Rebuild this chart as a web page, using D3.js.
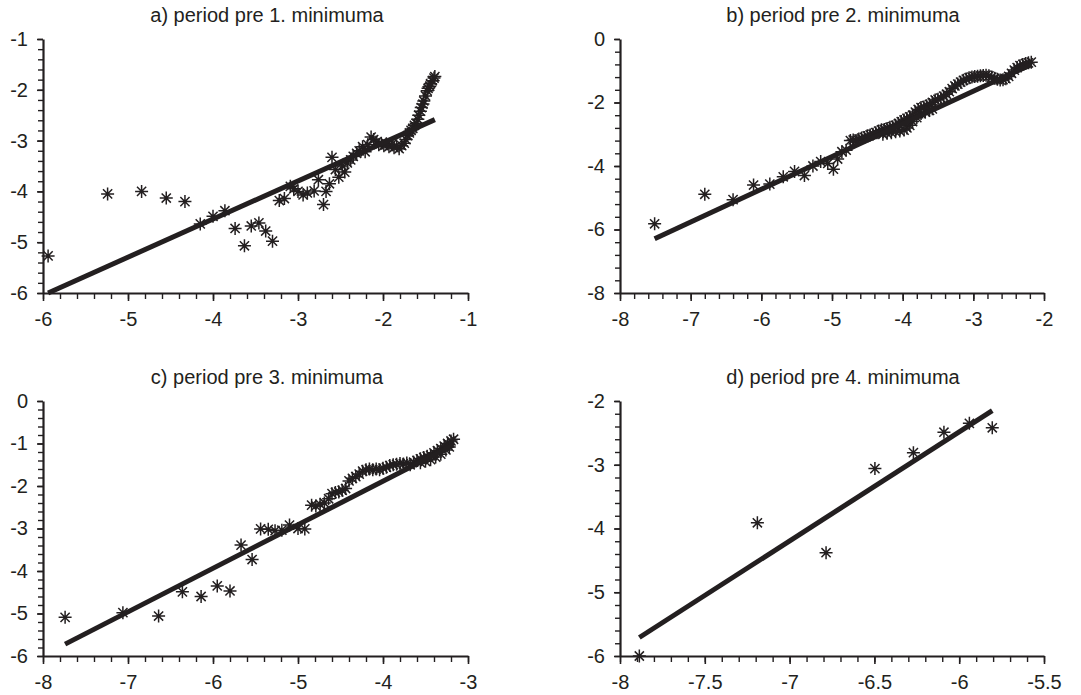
<!DOCTYPE html>
<html>
<head>
<meta charset="utf-8">
<script src="https://cdn.jsdelivr.net/npm/d3@7"></script>
<style>
  html, body { margin: 0; padding: 0; background: #fff; }
  svg { display: block; }
  text { font-family: "Liberation Sans", Arial, sans-serif; fill: #231f20; }
</style>
</head>
<body>
<svg id="chart" width="1081" height="695"></svg>
<script>
// ---------- DATA ----------
const titles = [
  "a) period pre 1. minimuma",
  "b) period pre 2. minimuma",
  "c) period pre 3. minimuma",
  "d) period pre 4. minimuma"
];

const xDomainA = [-6, -1], yDomainA = [-6, -1];
const xDomainB = [-8, -2], yDomainB = [-8, 0];
const xDomainC = [-8, -3], yDomainC = [-6, 0];
const xDomainD = [-8, -5.5], yDomainD = [-6, -2];

const xTicksA = [-6, -5, -4, -3, -2, -1];
const yTicksA = [-6, -5, -4, -3, -2, -1];
const xTicksB = [-8, -7, -6, -5, -4, -3, -2];
const yTicksB = [-8, -6, -4, -2, 0];
const xTicksC = [-8, -7, -6, -5, -4, -3];
const yTicksC = [-6, -5, -4, -3, -2, -1, 0];
const xTicksD = [-8, -7.5, -7, -6.5, -6, -5.5];
const yTicksD = [-6, -5, -4, -3, -2];

// minor tick step per panel [x, y]
const minorStepA = [0.2, 0.2];
const minorStepB = [0.2, 0.4];
const minorStepC = [0.2, 0.2];
const minorStepD = [0.1, 0.2];

// fitted line [slope, intercept]
const fitA = [0.75, -1.545];
const fitB = [1.03, 1.445];
const fitC = [1.025, 2.213];
const fitD = [1.71, 7.775];

const pointsA = [
  [-5.94,-5.27],[-5.24,-4.05],[-4.84,-4.00],[-4.55,-4.13],[-4.33,-4.20],[-4.15,-4.64],
  [-4.00,-4.49],[-3.86,-4.38],[-3.74,-4.73],[-3.63,-5.07],[-3.55,-4.68],[-3.46,-4.62],
  [-3.38,-4.78],[-3.30,-4.98],[-3.22,-4.18],[-3.16,-4.14],[-3.09,-3.90],[-3.05,-3.95],
  [-3.00,-4.00],[-2.94,-4.07],[-2.89,-4.03],[-2.81,-3.99],[-2.76,-3.77],[-2.70,-4.26],
  [-2.67,-4.00],[-2.63,-3.85],[-2.60,-3.33],[-2.56,-3.57],[-2.52,-3.72],[-2.48,-3.50],
  [-2.45,-3.62],[-2.42,-3.44],[-2.38,-3.38],[-2.35,-3.31],[-2.31,-3.25],[-2.28,-3.20],
  [-2.24,-3.12],[-2.21,-3.22],[-2.18,-3.08],[-2.14,-2.93],[-2.11,-2.98],[-2.08,-3.03],
  [-2.05,-3.08],[-2.02,-3.05],[-1.99,-3.10],[-1.96,-3.06],[-1.93,-3.12],[-1.90,-3.08],
  [-1.87,-3.14],[-1.84,-3.10],[-1.81,-3.16],[-1.78,-3.10],[-1.75,-3.05],[-1.73,-2.98],
  [-1.71,-2.90],[-1.69,-2.85],[-1.67,-2.80],[-1.65,-2.76],[-1.63,-2.70],[-1.61,-2.66],
  [-1.59,-2.58],[-1.58,-2.50],[-1.56,-2.42],[-1.55,-2.35],[-1.53,-2.28],[-1.52,-2.22],
  [-1.50,-2.12],[-1.48,-2.02],[-1.47,-1.97],[-1.45,-1.93],[-1.44,-1.88],[-1.42,-1.82],
  [-1.40,-1.77],[-1.39,-1.74]
];

const pointsB = [
  [-7.51,-5.82],[-6.80,-4.89],[-6.40,-5.06],[-6.11,-4.60],[-5.88,-4.57],[-5.69,-4.34],
  [-5.53,-4.17],[-5.39,-4.30],[-5.27,-4.00],[-5.16,-3.86],[-5.06,-3.92],[-4.98,-4.10],
  [-4.92,-3.78],[-4.86,-3.55],[-4.80,-3.50],[-4.74,-3.20],
  [-4.70,-3.18],[-4.66,-3.20],[-4.62,-3.15],[-4.58,-3.12],[-4.54,-3.10],[-4.50,-3.05],
  [-4.46,-3.02],[-4.42,-3.00],[-4.38,-2.95],[-4.34,-2.90],[-4.30,-2.86],[-4.26,-2.85],
  [-4.22,-2.82],[-4.18,-2.78],[-4.14,-2.76],[-4.10,-2.72],[-4.06,-2.66],[-4.02,-2.60],
  [-3.98,-2.55],[-3.94,-2.50],[-3.90,-2.45],[-3.86,-2.40],[-3.82,-2.30],[-3.78,-2.22],
  [-3.74,-2.16],[-3.70,-2.14],[-3.66,-2.10],[-3.62,-2.06],[-3.58,-2.00],[-3.54,-1.92],
  [-3.50,-1.90],[-3.46,-1.86],[-3.42,-1.80],[-3.38,-1.74],[-3.34,-1.66],[-3.30,-1.56],
  [-3.26,-1.48],[-3.22,-1.42],[-3.18,-1.36],[-3.14,-1.30],[-3.10,-1.26],[-3.06,-1.22],
  [-3.02,-1.20],[-2.98,-1.18],[-2.94,-1.17],[-2.90,-1.16],[-2.86,-1.15],[-2.82,-1.14],
  [-2.78,-1.16],[-2.74,-1.20],[-2.70,-1.24],[-2.66,-1.27],[-2.62,-1.29],[-2.58,-1.28],
  [-2.54,-1.25],[-2.50,-1.18],[-2.46,-1.08],[-2.42,-0.98],[-2.38,-0.90],[-2.34,-0.84],
  [-2.30,-0.80],[-2.26,-0.77],[-2.22,-0.75],[-2.18,-0.73],
  [-4.28,-3.00],[-4.22,-2.97],[-4.16,-2.95],[-4.10,-2.92],[-4.04,-2.90],[-3.98,-2.87],
  [-3.94,-2.80],[-3.90,-2.72],[-3.86,-2.60],[-3.80,-2.48],[-3.74,-2.35],[-3.68,-2.30],
  [-3.62,-2.25],[-3.58,-2.20]
];

const pointsC = [
  [-7.74,-5.09],[-7.06,-4.98],[-6.64,-5.06],[-6.36,-4.49],[-6.14,-4.60],[-5.95,-4.35],
  [-5.80,-4.47],[-5.67,-3.39],[-5.54,-3.73],[-5.44,-3.01],[-5.35,-3.02],[-5.27,-3.05],
  [-5.19,-3.04],[-5.10,-2.92],[-5.00,-3.00],[-4.92,-3.01],
  [-4.84,-2.45],[-4.79,-2.47],[-4.74,-2.43],[-4.69,-2.40],[-4.64,-2.30],[-4.60,-2.18],
  [-4.56,-2.15],[-4.52,-2.14],[-4.48,-2.10],[-4.44,-2.06],[-4.40,-1.88],[-4.36,-1.82],
  [-4.32,-1.78],[-4.28,-1.72],[-4.24,-1.65],[-4.20,-1.62],[-4.16,-1.60],[-4.12,-1.62],
  [-4.08,-1.60],[-4.04,-1.62],[-4.00,-1.58],[-3.96,-1.56],[-3.92,-1.52],[-3.88,-1.50],
  [-3.84,-1.49],[-3.80,-1.47],[-3.76,-1.48],[-3.72,-1.46],[-3.68,-1.50],[-3.64,-1.44],
  [-3.60,-1.40],[-3.56,-1.36],[-3.52,-1.33],[-3.48,-1.30],[-3.44,-1.28],[-3.40,-1.22],
  [-3.36,-1.17],[-3.32,-1.12],[-3.28,-1.06],[-3.24,-1.00],[-3.20,-0.94],[-3.17,-0.90],
  [-3.56,-1.45],[-3.50,-1.42],[-3.44,-1.38],[-3.38,-1.32],[-3.32,-1.25],[-3.26,-1.15],
  [-3.22,-1.08]
];

const pointsD = [
  [-7.886,-6.00],[-7.19,-3.91],[-6.785,-4.38],[-6.497,-3.06],[-6.27,-2.81],
  [-6.09,-2.49],[-5.94,-2.35],[-5.805,-2.42]
];

// ---------- DRAW ----------
const ink = "#231f20";
const fontSize = "20px";
const svg = d3.select("#chart");

const layouts = [
  { left: 43,  right: 468,  top: 39,  bottom: 293, tx: 267, ty: 22 },
  { left: 620, right: 1044, top: 39,  bottom: 293, tx: 843, ty: 22 },
  { left: 43,  right: 468,  top: 401, bottom: 656, tx: 267, ty: 384 },
  { left: 620, right: 1044, top: 401, bottom: 656, tx: 843, ty: 384 }
];

const panels = [
  { title: titles[0], xd: xDomainA, yd: yDomainA, xt: xTicksA, yt: yTicksA, ms: minorStepA, fit: fitA, pts: pointsA },
  { title: titles[1], xd: xDomainB, yd: yDomainB, xt: xTicksB, yt: yTicksB, ms: minorStepB, fit: fitB, pts: pointsB },
  { title: titles[2], xd: xDomainC, yd: yDomainC, xt: xTicksC, yt: yTicksC, ms: minorStepC, fit: fitC, pts: pointsC },
  { title: titles[3], xd: xDomainD, yd: yDomainD, xt: xTicksD, yt: yTicksD, ms: minorStepD, fit: fitD, pts: pointsD }
];

function minorTicks(domain, step) {
  const n = Math.round((domain[1] - domain[0]) / step);
  const out = [];
  for (let i = 0; i <= n; i++) out.push(+(domain[0] + i * step).toFixed(6));
  return out;
}

const fmt = d => String(d);
const r = 6.5, k = r * 0.7071;
const star = `M${-r},0L${r},0M0,${-r}L0,${r}M${-k},${-k}L${k},${k}M${-k},${k}L${k},${-k}`;

panels.forEach((p, i) => {
  const L = layouts[i];
  const x = d3.scaleLinear().domain(p.xd).range([L.left, L.right]);
  const y = d3.scaleLinear().domain(p.yd).range([L.bottom, L.top]);
  const g = svg.append("g");

  g.append("text")
    .attr("x", L.tx).attr("y", L.ty)
    .attr("text-anchor", "middle")
    .style("font-size", fontSize)
    .text(p.title);

  // minor ticks
  g.append("g").attr("transform", `translate(0,${L.bottom})`)
    .call(d3.axisBottom(x).tickValues(minorTicks(p.xd, p.ms[0])).tickSize(6).tickFormat(""))
    .call(s => s.select(".domain").remove())
    .call(s => s.selectAll("line").attr("stroke", ink).attr("stroke-width", 1.4));
  g.append("g").attr("transform", `translate(${L.left},0)`)
    .call(d3.axisLeft(y).tickValues(minorTicks(p.yd, p.ms[1])).tickSize(5).tickFormat(""))
    .call(s => s.select(".domain").remove())
    .call(s => s.selectAll("line").attr("stroke", ink).attr("stroke-width", 1.4));

  // major axes
  g.append("g").attr("transform", `translate(0,${L.bottom})`)
    .call(d3.axisBottom(x).tickValues(p.xt).tickSize(8).tickSizeOuter(0).tickPadding(11).tickFormat(fmt))
    .call(s => s.select(".domain").attr("stroke", ink).attr("stroke-width", 2.2))
    .call(s => s.selectAll("line").attr("stroke", ink).attr("stroke-width", 1.6))
    .call(s => s.selectAll("text").style("font-size", fontSize).attr("fill", ink)
      .style("font-family", '"Liberation Sans", Arial, sans-serif'));
  g.append("g").attr("transform", `translate(${L.left},0)`)
    .call(d3.axisLeft(y).tickValues(p.yt).tickSize(6).tickSizeOuter(0).tickPadding(9).tickFormat(fmt))
    .call(s => s.select(".domain").attr("stroke", ink).attr("stroke-width", 2.2))
    .call(s => s.selectAll("line").attr("stroke", ink).attr("stroke-width", 1.6))
    .call(s => s.selectAll("text").style("font-size", fontSize).attr("fill", ink)
      .style("font-family", '"Liberation Sans", Arial, sans-serif'));

  // markers
  g.append("g").selectAll("path").data(p.pts).join("path")
    .attr("d", star)
    .attr("transform", d => `translate(${x(d[0])},${y(d[1])})`)
    .attr("fill", "none").attr("stroke", ink).attr("stroke-width", 1.5);

  // fitted line across data range
  const xs = d3.extent(p.pts, d => d[0]);
  const lineData = xs.map(v => [v, p.fit[0] * v + p.fit[1]]);
  g.append("path")
    .datum(lineData)
    .attr("d", d3.line().x(d => x(d[0])).y(d => y(d[1])))
    .attr("stroke", ink).attr("stroke-width", 5).attr("fill", "none");
});
</script>
</body>
</html>
